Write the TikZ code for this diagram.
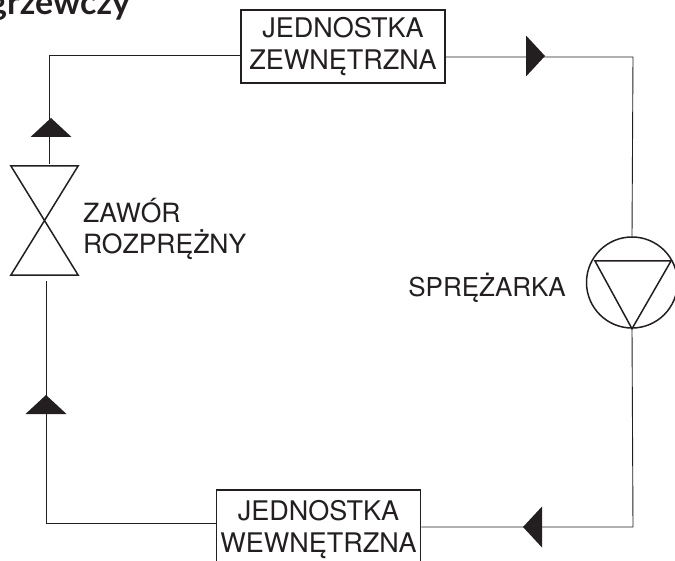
\documentclass[tikz,border=0pt]{standalone}
\usepackage{fontspec}
\setmainfont{TeX Gyre Heros}
\newfontfamily\titlefont{Lato}
\usetikzlibrary{positioning}
\definecolor{ink}{HTML}{231F20}
\tikzstyle{unitbox}=[rectangle,draw=ink,line width=1.5pt,minimum width=204pt,align=center,inner sep=0pt,font=\fontsize{27}{31.5}\selectfont,text=ink]
\tikzstyle{label}=[align=left,inner sep=0pt,font=\fontsize{26.5}{31.5}\selectfont,text=ink]
\tikzstyle{pipe}=[draw=ink,line width=0.9pt]
\tikzstyle{symbol}=[draw=ink,line width=1.5pt]
\tikzstyle{flowtip}=[fill=ink]

\begin{document}
\begin{tikzpicture}[x=1pt,y=-1pt]

    % Fix the page and cut what runs over its edges
    \useasboundingbox (0,0) rectangle (675,561);
    \clip (0,0) rectangle (675,561);

    % First we draw the units
    \node[unitbox,minimum height=73pt] (outdoor) at (343,46.5) {JEDNOSTKA\\ZEWNĘTRZNA};
    \node[unitbox,minimum height=79pt] (indoor) at (318.5,529.5) {JEDNOSTKA\\WEWNĘTRZNA};

    % Compressor and valve symbols
    \node[circle,symbol,minimum size=91pt,inner sep=0pt] (compressor) at (632,282.5) {};
    \draw[symbol] (595,261) -- (671,261) -- (compressor.south) -- cycle;
    \node[minimum width=67pt,minimum height=109pt,inner sep=0pt] (valve) at (44.5,220.5) {};
    \draw[symbol] (valve.north west) -- (valve.north east) -- (valve.south west) -- (valve.south east) -- cycle;

    % Corners of the circuit
    \coordinate (topleft) at (49.5,55);
    \coordinate (topright) at (633,57);
    \coordinate (bottomright) at (633,527);
    \coordinate (bottomleft) at (46,523);
    \coordinate (valvein) at (46,281);
    \coordinate (valveout) at (49.5,164);

    % Connect them
    \path[pipe] (outdoor.east |- topright) -- (topright) -- (compressor.north);
    \path[pipe] (compressor.south) -- (bottomright) -- (indoor.east |- bottomright);
    \path[pipe] (indoor.west |- bottomleft) -- (bottomleft) -- (valvein);
    \path[pipe] (valveout) -- (topleft) -- (outdoor.west |- topleft);

    % Flow direction
    \foreach \pos/\rot in {{(545,56)/0}, {(523,527)/180}, {(46,395)/90}, {(51,118)/90}}
        \fill[flowtip,shift={\pos},rotate=\rot] (0,0) -- (-19,-20.5) -- (-19,20.5) -- cycle;

    % Labels
    \node[label,anchor=west] (valvelabel) at (83,229) {ZAWÓR\\ROZPRĘŻNY};
    \node[label,anchor=east,font=\fontsize{26}{31}\selectfont] (compressorlabel) at (566,288) {SPRĘŻARKA};
    \node[anchor=base west,inner sep=0pt,text=ink,font=\titlefont\bfseries\fontsize{34}{34}\selectfont] (title) at (-11,15) {grzewczy};

\end{tikzpicture}
\end{document}
